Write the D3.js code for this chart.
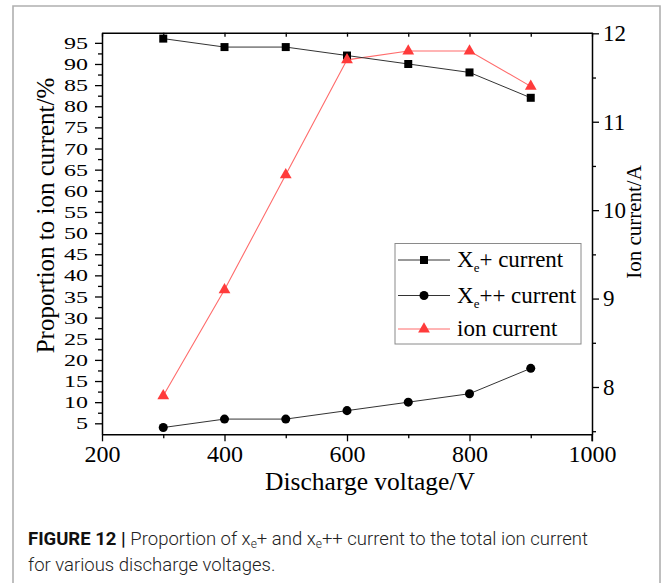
<!DOCTYPE html>
<html><head><meta charset="utf-8">
<script src="https://cdn.jsdelivr.net/npm/d3@7"></script>
<style>body{margin:0;background:#fff}svg{display:block}</style>
</head><body>
<svg id="c" width="665" height="583"></svg>
<script>
// ---- data ----
const voltages = [300, 400, 500, 600, 700, 800, 900];
const xePlus = [96, 94, 94, 92, 90, 88, 82];          // %
const xePlusPlus = [4, 6, 6, 8, 10, 12, 18];          // %
const ionCurrent = [7.9, 9.1, 10.4, 11.7, 11.8, 11.8, 11.4]; // A
const xTicks = [200, 400, 600, 800, 1000];
const xMinorTicks = [300, 500, 700, 900];
const yLeftTicks = [5,10,15,20,25,30,35,40,45,50,55,60,65,70,75,80,85,90,95];
const yLeftMinor = [7.5,12.5,17.5,22.5,27.5,32.5,37.5,42.5,47.5,52.5,57.5,62.5,67.5,72.5,77.5,82.5,87.5,92.5];
const yRightTicks = [8, 9, 10, 11, 12];
const yRightMinor = [7.5, 8.5, 9.5, 10.5, 11.5];

const svg = d3.select("#c");
const L = 102, R = 592, T = 32.7, B = 434.3;
const x = d3.scaleLinear().domain([200, 1000]).range([L, R]);
const yL = d3.scaleLinear().domain([2.4, 97.4]).range([B, T]);
const yR = d3.scaleLinear().domain([7.465, 12.007]).range([B, T]);
const serif = "'Liberation Serif','Times New Roman',serif";

// frame
svg.append("path").attr("d", "M13,590 L13,6 L660,6 L660,590")
  .attr("fill", "none").attr("stroke", "#b0b0b0").attr("stroke-width", 1.6);

// axes
function styleAxis(g){
  g.select(".domain").attr("stroke", "#000").attr("stroke-width", 1.5);
  g.selectAll(".tick line").attr("stroke", "#000").attr("stroke-width", 1.3);
  g.selectAll(".tick text").attr("fill", "#000").attr("font-family", serif);
}
// bottom major
const gx = svg.append("g").attr("transform", `translate(0,${B})`)
  .call(d3.axisBottom(x).tickValues(xTicks).tickSize(7).tickSizeOuter(0).tickPadding(4).tickFormat(d3.format("d")));
styleAxis(gx); gx.selectAll(".tick text").attr("font-size", 24);
const gxm = svg.append("g").attr("transform", `translate(0,${B})`)
  .call(d3.axisBottom(x).tickValues(xMinorTicks).tickSize(4).tickFormat(""));
styleAxis(gxm); gxm.select(".domain").remove();
// top
const gt = svg.append("g").attr("transform", `translate(0,${T})`)
  .call(d3.axisBottom(x).tickValues(xTicks.concat(xMinorTicks)).tickSize(4).tickSizeOuter(0).tickFormat(""));
styleAxis(gt);
// left
const gl = svg.append("g").attr("transform", `translate(${L},0)`)
  .call(d3.axisLeft(yL).tickValues(yLeftTicks).tickSize(7).tickSizeOuter(0).tickPadding(7).tickFormat(d3.format("d")));
styleAxis(gl);
gl.selectAll(".tick text").attr("font-size", 24).attr("transform", "scale(1,0.72)");
const glm = svg.append("g").attr("transform", `translate(${L},0)`)
  .call(d3.axisLeft(yL).tickValues(yLeftMinor).tickSize(4).tickFormat(""));
styleAxis(glm); glm.select(".domain").remove();
// right
const gr = svg.append("g").attr("transform", `translate(${R},0)`)
  .call(d3.axisRight(yR).tickValues(yRightTicks).tickSize(7).tickSizeOuter(0).tickPadding(4).tickFormat(d3.format("d")));
styleAxis(gr); gr.selectAll(".tick text").attr("font-size", 23);
const grm = svg.append("g").attr("transform", `translate(${R},0)`)
  .call(d3.axisRight(yR).tickValues(yRightMinor).tickSize(4).tickFormat(""));
styleAxis(grm); grm.select(".domain").remove();
// extend right axis below bottom (corner tick)
svg.append("line").attr("x1", R).attr("x2", R).attr("y1", B).attr("y2", B + 7)
  .attr("stroke", "#000").attr("stroke-width", 1.3);

// axis titles
svg.append("text").attr("x", (L + R) / 2 + 23).attr("y", 490).attr("text-anchor", "middle")
  .attr("font-family", serif).attr("font-size", 25.5).text("Discharge voltage/V");
svg.append("text").attr("transform", `translate(54,${(T + B) / 2 - 18}) rotate(-90)`)
  .attr("text-anchor", "middle").attr("font-family", serif).attr("font-size", 25)
  .text("Proportion to ion current/%");
svg.append("text").attr("transform", `translate(641,222) rotate(-90)`)
  .attr("text-anchor", "middle").attr("font-family", serif).attr("font-size", 21)
  .text("Ion current/A");

// series
const pts = voltages.map((v, i) => ({v, a: xePlus[i], b: xePlusPlus[i], c: ionCurrent[i]}));
const lineA = d3.line().x(d => x(d.v)).y(d => yL(d.a));
const lineB = d3.line().x(d => x(d.v)).y(d => yL(d.b));
const lineC = d3.line().x(d => x(d.v)).y(d => yR(d.c));
svg.append("path").attr("d", lineC(pts)).attr("fill", "none").attr("stroke", "#ff6b6b").attr("stroke-width", 1.1);
svg.append("path").attr("d", lineA(pts)).attr("fill", "none").attr("stroke", "#333").attr("stroke-width", 1);
svg.append("path").attr("d", lineB(pts)).attr("fill", "none").attr("stroke", "#333").attr("stroke-width", 1);
const sq = d3.symbol().type(d3.symbolSquare).size(64);
const ci = d3.symbol().type(d3.symbolCircle).size(64);
const tr = d3.symbol().type(d3.symbolTriangle).size(60);
svg.selectAll(".sa").data(pts).join("path").attr("d", sq)
  .attr("transform", d => `translate(${x(d.v)},${yL(d.a)})`).attr("fill", "#000");
svg.selectAll(".sb").data(pts).join("path").attr("d", ci)
  .attr("transform", d => `translate(${x(d.v)},${yL(d.b)})`).attr("fill", "#000");
svg.selectAll(".sc").data(pts).join("path").attr("d", tr)
  .attr("transform", d => `translate(${x(d.v)},${yR(d.c)})`).attr("fill", "#ff3b3b");

// legend
const lg = svg.append("g");
lg.append("rect").attr("x", 395).attr("y", 243.5).attr("width", 186).attr("height", 100.5)
  .attr("fill", "#fff").attr("stroke", "#8a8a8a").attr("stroke-width", 1);
const legendItems = [
  {main: "X", sub: "e", rest: "+ current", sym: sq, color: "#000", lc: "#333", cy: 260},
  {main: "X", sub: "e", rest: "++ current", sym: ci, color: "#000", lc: "#333", cy: 295.5},
  {main: "ion current", sub: "", rest: "", sym: tr, color: "#ff3b3b", lc: "#ff6b6b", cy: 329}
];
legendItems.forEach(it => {
  lg.append("line").attr("x1", 398).attr("x2", 450).attr("y1", it.cy).attr("y2", it.cy)
    .attr("stroke", it.lc).attr("stroke-width", 1);
  lg.append("path").attr("d", it.sym).attr("transform", `translate(424,${it.cy})`).attr("fill", it.color);
  const t = lg.append("text").attr("x", 457).attr("y", it.cy + 7)
    .attr("font-family", serif).attr("font-size", 23).attr("fill", "#000");
  t.append("tspan").text(it.main);
  if (it.sub) {
    t.append("tspan").attr("font-size", 13).attr("dy", 5).text(it.sub);
    t.append("tspan").attr("dy", -5).text(it.rest);
  }
});

// caption
const sans = "Roboto,'Noto Sans',sans-serif";
const cap = svg.append("text").attr("x", 28).attr("y", 545).attr("font-family", sans)
  .attr("font-size", 18.5).attr("fill", "#222");
cap.append("tspan").attr("font-weight", 700).attr("fill", "#111").text("FIGURE 12 | ");
cap.append("tspan").attr("font-weight", 300).text("Proportion of x");
cap.append("tspan").attr("font-weight", 300).attr("font-size", 12).attr("dy", 3).text("e");
cap.append("tspan").attr("font-weight", 300).attr("dy", -3).text("+ and x");
cap.append("tspan").attr("font-weight", 300).attr("font-size", 12).attr("dy", 3).text("e");
cap.append("tspan").attr("font-weight", 300).attr("dy", -3).text("++ current to the total ion current");
svg.append("text").attr("x", 28).attr("y", 571).attr("font-family", sans)
  .attr("font-size", 18.5).attr("font-weight", 300).attr("fill", "#222")
  .text("for various discharge voltages.");
</script>
</body></html>
